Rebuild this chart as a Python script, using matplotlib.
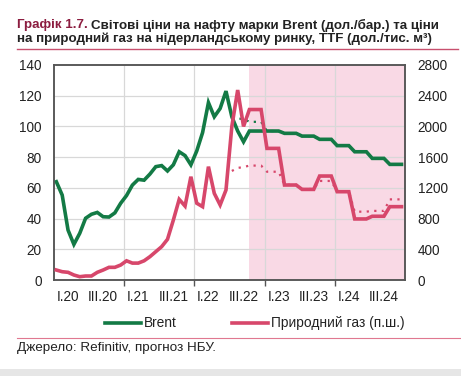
import matplotlib
matplotlib.use("Agg")
import matplotlib.pyplot as plt
from matplotlib.lines import Line2D
from matplotlib.patches import Rectangle
import numpy as np

plt.rcParams['font.family'] = ['Liberation Sans', 'DejaVu Sans']

# ---- data (monthly, Jan 2020 .. Dec 2024) ----
brent = [64, 55.3, 32.5, 23.2, 30.4, 40.2, 42.8, 44, 41.2, 41, 43.7, 50,
         55, 61.8, 65.5, 65, 69, 73.8, 74.5, 71, 75, 83.5, 81, 75,
         84, 96, 115.5, 106.3, 111.7, 123, 106.3, 97, 90, 97, 97, 97,
         97, 97, 97, 95.5, 95.5, 95.5, 93.7, 93.7, 93.7, 91.6, 91.6, 91.6,
         87.5, 87.5, 87.5, 83.5, 83.5, 83.5, 79.2, 79.2, 79.2, 75.3, 75.3, 75.3]
gas = [130, 108, 100, 65, 43, 52, 52, 100, 130, 165, 165, 195,
       250, 220, 220, 250, 304, 369, 434, 530, 780, 1050, 963, 1345,
       1000, 955, 1476, 1128, 977, 1172, 2000, 2474, 2000, 2220, 2220, 2220,
       1714, 1714, 1714, 1237, 1237, 1237, 1180, 1180, 1180, 1354, 1354, 1354,
       1150, 1150, 1150, 795, 795, 795, 830, 830, 830, 955, 955, 955]
# previous forecast (dotted), from Jul 2022
prev_start = 30
brent_prev = [105, 105, 105, 103, 103, 103,
              97, 97, 97, 95.5, 95.5, 95.5, 93.7, 93.7, 93.7, 91.6, 91.6, 91.6,
              87.5, 87.5, 87.5, 83.5, 83.5, 83.5, 79.2, 79.2, 79.2, 75.3, 75.3, 75.3]
gas_prev = [1420, 1460, 1470, 1490, 1490, 1490,
            1410, 1410, 1410, 1240, 1240, 1240, 1185, 1185, 1185, 1290, 1290, 1290,
            1150, 1150, 1150, 890, 890, 890, 900, 900, 900, 1050, 1050, 1050]
xlabels = ['I.20', 'III.20', 'I.21', 'III.21', 'I.22', 'III.22', 'I.23', 'III.23', 'I.24', 'III.24']
forecast_from = 33

GREEN = '#137a45'
RED = '#d7476b'
GRID = '#d8d8d8'
FRAME = '#555555'
TXT = '#222222'

W, H = 461, 376
fig = plt.figure(figsize=(W / 100, H / 100), dpi=100)
ax = fig.add_axes([54 / W, 1 - 280 / H, (405 - 54) / W, (280 - 65) / H])
ax2 = ax.twinx()

x = np.arange(len(brent))
xp = np.arange(prev_start, prev_start + len(brent_prev))

ax.axvspan(forecast_from, 59.6, color='#f9d9e5', lw=0, zorder=0)

ax.set_xlim(-0.4, 59.6)
ax.set_ylim(0, 140)
ax2.set_ylim(0, 2800)
ax.set_yticks(np.arange(0, 141, 20))
ax2.set_yticks(np.arange(0, 2801, 400))

for yv in np.arange(20, 140, 20):
    ax.axhline(yv, color=GRID, lw=0.9, zorder=1)
for xv in [11.6, 23.6, 35.6, 47.6]:
    ax.axvline(xv, color=GRID, lw=0.9, zorder=1)

ax2.plot(xp, gas_prev, color=RED, lw=1.6, ls=(0, (1, 2.4)), zorder=3)
ax.plot(xp, brent_prev, color=GREEN, lw=1.6, ls=(0, (1, 2.4)), zorder=3)
ax.plot(x, brent, color=GREEN, lw=2.6, solid_joinstyle='miter', zorder=4)
ax2.plot(x, gas, color=RED, lw=2.6, solid_joinstyle='miter', zorder=5)

ax.set_xticks([11.6, 23.6, 35.6, 47.6])
ax.set_xticklabels([])
ax.set_xticks(np.arange(2, 60, 6), minor=True)
ax.set_xticklabels(xlabels, minor=True)
ax.tick_params(axis='x', which='major', direction='out', length=4, width=1, color=FRAME)
ax.tick_params(axis='x', which='minor', length=0, pad=7, labelsize=9.8, labelcolor=TXT)
ax.tick_params(axis='y', length=0, pad=9, labelsize=9.8, labelcolor=TXT)
ax2.tick_params(axis='y', length=0, pad=9, labelsize=9.8, labelcolor=TXT)

for a in (ax, ax2):
    for s in a.spines.values():
        s.set_color(FRAME)
        s.set_linewidth(1.1)
ax2.patch.set_visible(False)

# title
TFS = 9.6
t1 = fig.text(17 / W, 1 - 25 / H, 'Графік 1.7.', fontsize=TFS, fontweight='bold',
              color='#8c1d40', va='center', ha='left')
fig.canvas.draw()
bb = t1.get_window_extent()
fig.text(bb.x1 / W + 3 / W, 1 - 25 / H,
         'Світові ціни на нафту марки Brent (дол./бар.) та ціни',
         fontsize=TFS, fontweight='bold', color=TXT, va='center', ha='left')
fig.text(17 / W, 1 - 38.5 / H,
         'на природний газ на нідерландському ринку, TTF (дол./тис. м³)',
         fontsize=TFS, fontweight='bold', color=TXT, va='center', ha='left')
fig.add_artist(Line2D([17 / W, 458 / W], [1 - 48.5 / H] * 2, color='#c8506e', lw=1.0))

# legend
ly = 1 - 323 / H
fig.add_artist(Line2D([105 / W, 141 / W], [ly, ly], color=GREEN, lw=2.6))
fig.text(144 / W, ly, 'Brent', fontsize=9.9, va='center', ha='left', color=TXT)
fig.add_artist(Line2D([232 / W, 268 / W], [ly, ly], color=RED, lw=2.6))
fig.text(271 / W, ly, 'Природний газ (п.ш.)', fontsize=9.9, va='center', ha='left', color=TXT)

fig.add_artist(Line2D([17 / W, 461 / W], [1 - 337.5 / H] * 2, color='#e07890', lw=0.8))
fig.text(17 / W, 1 - 348 / H, 'Джерело: Refinitiv, прогноз НБУ.', fontsize=9.7,
         va='center', ha='left', color=TXT)

fig.add_artist(Rectangle((0, 0), 1, 7 / H, transform=fig.transFigure,
                         color='#e6e6e6', lw=0))

fig.savefig('out.png', dpi=100)
